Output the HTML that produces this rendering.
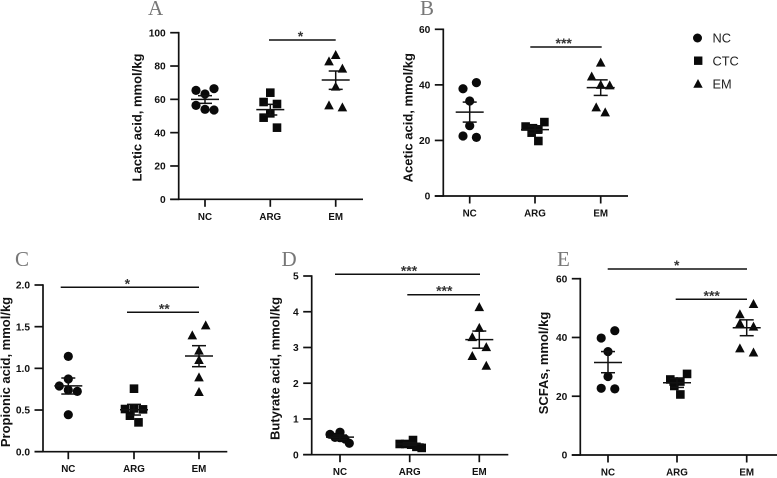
<!DOCTYPE html>
<html lang="en">
<head>
<meta charset="utf-8">
<title>Short-chain fatty acids by group</title>
<style>
html,body{margin:0;padding:0;background:#fff;}
svg{display:block;font-family:"Liberation Sans",Arial,sans-serif;}
</style>
</head>
<body>
<svg id="fig" xmlns="http://www.w3.org/2000/svg" width="777" height="478" viewBox="0 0 777 478">
  <g>
    <circle cx="697.5" cy="38" r="4.5" fill="#0a0a0a"/>
    <text x="712.5" y="42.5" font-size="12.8" fill="#222">NC</text>
    <rect x="694" y="56.5" width="8.4" height="8.4" fill="#0a0a0a"/>
    <text x="712.5" y="65.5" font-size="12.8" fill="#222">CTC</text>
    <polygon points="698,79 702.7,87.7 693.3,87.7" fill="#0a0a0a"/>
    <text x="712.5" y="88.5" font-size="12.8" fill="#222">EM</text>
  </g>
</svg>
<script>
var categories = ['NC', 'ARG', 'EM'];

var lacticTicks = [0, 20, 40, 60, 80, 100];
var lacticNC = [65.4, 66.4, 63.2, 56.4, 54, 53.6];
var lacticARG = [64, 58.4, 57.2, 51.6, 49, 43];
var lacticEM = [86.6, 82.8, 78.4, 67.6, 56.4, 55.2];
var lacticMean = [60, 53.8, 71.6];
var lacticUpper = [62.2, 57, 77];
var lacticLower = [57.6, 50.6, 66];

var aceticTicks = [0, 20, 40, 60];
var aceticNC = [40.8, 38.6, 34.2, 25.3, 21.6, 21.1];
var aceticARG = [25, 26.6, 24.4, 24, 22.8, 19.8];
var aceticEM = [48, 43, 40, 39.8, 31.9, 30.1];
var aceticMean = [30.2, 23.9, 39];
var aceticUpper = [33.8, 25.2, 41.8];
var aceticLower = [26.6, 22.6, 36.2];

var propionicTicks = ['0.0', '0.5', '1.0', '1.5', '2.0'];
var propionicNC = [1.144, 0.872, 0.788, 0.74, 0.724, 0.444];
var propionicARG = [0.756, 0.512, 0.52, 0.508, 0.432, 0.352];
var propionicEM = [1.516, 1.396, 1.212, 1.1, 0.892, 0.716];
var propionicMean = [0.79, 0.504, 1.148];
var propionicUpper = [0.884, 0.568, 1.272];
var propionicLower = [0.692, 0.44, 1.02];

var butyrateTicks = [0, 1, 2, 3, 4, 5];
var butyrateNC = [0.57, 0.63, 0.485, 0.476, 0.44, 0.32];
var butyrateARG = [0.41, 0.3, 0.3, 0.28, 0.22, 0.19];
var butyrateEM = [4.13, 3.55, 3.29, 3.01, 2.76, 2.49];
var butyrateMean = [0.49, 0.3, 3.22];
var butyrateUpper = [0.55, 0.34, 3.46];
var butyrateLower = [0.43, 0.26, 2.98];

var scfaTicks = [0, 20, 40, 60];
var scfaNC = [42.3, 39.8, 35.2, 26.7, 22.7, 22.5];
var scfaARG = [27.6, 25.7, 25, 25, 23.5, 20.6];
var scfaEM = [51.4, 47.9, 44.8, 43.7, 36.3, 34.9];
var scfaMean = [31.5, 24.6, 43.3];
var scfaUpper = [35.2, 26, 46];
var scfaLower = [28, 23, 40.6];

var SVGNS = 'http://www.w3.org/2000/svg';
var fig = document.getElementById('fig');

function make(parent, tag, attrs, text) {
  var el = document.createElementNS(SVGNS, tag);
  for (var k in attrs) {
    el.setAttribute(k, attrs[k]);
  }
  if (text !== undefined) {
    el.textContent = text;
  }
  parent.appendChild(el);
  return el;
}

function drawPanel(p) {
  var g = make(fig, 'g', {});
  
  

  var maxTick = parseFloat(p.ticks[p.ticks.length - 1]);
  function y(v) { return p.y0 + (p.yTop - p.y0) * v / maxTick; }
  function x(i) { return p.cx[i]; }

  var letter = make(g, 'text', {x: p.letterX, y: p.letterY, 'font-size': 21, 'font-family': '"Liberation Serif",serif', fill: '#777'}, p.letter);
  
  

  var yAxis = make(g, 'line', {x1: p.axisX, x2: p.axisX, y1: y(maxTick) - 0.8, y2: p.y0 + 0.8, stroke: '#111', 'stroke-width': 1.7});
  
  

  var xAxis = make(g, 'line', {x1: p.axisX - 8.5, x2: p.xEnd, y1: p.y0, y2: p.y0, stroke: '#111', 'stroke-width': 1.7});
  
  

  p.ticks.forEach(function (t) {
    var v = parseFloat(t);
    var tick = make(g, 'line', {x1: p.axisX - 8.5, x2: p.axisX, y1: y(v), y2: y(v), stroke: '#111', 'stroke-width': 1.7});
    
    
    var label = make(g, 'text', {x: p.axisX - 13, y: y(v) + 3.7, 'font-size': 10.2, 'font-weight': 'bold', 'text-anchor': 'end', fill: '#111'}, t);
    
    
  });

  var yTitle = make(g, 'text', {x: 0, y: 0, 'font-size': 13, 'font-weight': 'bold', 'text-anchor': 'middle', fill: '#111', transform: 'translate(' + p.titleX + ',' + p.titleY + ') rotate(-90)'}, p.title);
  
  

  categories.forEach(function (c, i) {
    var tick = make(g, 'line', {x1: x(i), x2: x(i), y1: p.y0, y2: p.y0 + 7.5, stroke: '#111', 'stroke-width': 1.7});
    
    
    var label = make(g, 'text', {x: x(i), y: p.y0 + 20.5, 'font-size': 9.8, 'font-weight': 'bold', 'text-anchor': 'middle', fill: '#111'}, c);
    
    
  });

  p.series.forEach(function (vals, i) {
    vals.forEach(function (v, j) {
      var px = x(i) + p.spread[i][j] * p.step[i];
      var py = y(v);
      var mark;
      if (i === 0) {
        mark = make(g, 'circle', {cx: px, cy: py, r: 4.6, fill: '#0a0a0a'});
      } else if (i === 1) {
        mark = make(g, 'rect', {x: px - 4.3, y: py - 4.3, width: 8.6, height: 8.6, fill: '#0a0a0a'});
      } else {
        mark = make(g, 'polygon', {points: px + ',' + (py - 5) + ' ' + (px + 4.8) + ',' + (py + 4) + ' ' + (px - 4.8) + ',' + (py + 4), fill: '#0a0a0a'});
      }
      
      
    });

    var stem = make(g, 'line', {x1: x(i), x2: x(i), y1: y(p.upper[i]), y2: y(p.lower[i]), stroke: '#111', 'stroke-width': 1.5});
    
    
    var capHi = make(g, 'line', {x1: x(i) - 7, x2: x(i) + 7, y1: y(p.upper[i]), y2: y(p.upper[i]), stroke: '#111', 'stroke-width': 1.5});
    
    
    var capLo = make(g, 'line', {x1: x(i) - 7, x2: x(i) + 7, y1: y(p.lower[i]), y2: y(p.lower[i]), stroke: '#111', 'stroke-width': 1.5});
    
    
    var meanLine = make(g, 'line', {x1: x(i) - 14, x2: x(i) + 14, y1: y(p.mean[i]), y2: y(p.mean[i]), stroke: '#111', 'stroke-width': 1.5});
    
    
  });

  p.sig.forEach(function (s) {
    var bar = make(g, 'line', {x1: s.x1, x2: s.x2, y1: s.y, y2: s.y, stroke: '#111', 'stroke-width': 1.5});
    
    
    var star = make(g, 'text', {x: s.sx, y: s.y + 1, 'font-size': 14, 'font-weight': 'bold', 'text-anchor': 'middle', fill: '#333'}, s.label);
    
    
  });
}

drawPanel({
  id: 'lactic', letter: 'A', letterX: 148, letterY: 15,
  title: 'Lactic acid, mmol/kg', titleX: 141.5, titleY: 117.5,
  axisX: 178.7, y0: 199.3, yTop: 32.7, xEnd: 363, cx: [205, 270.3, 335.7],
  ticks: lacticTicks,
  series: [lacticNC, lacticARG, lacticEM], mean: lacticMean, upper: lacticUpper, lower: lacticLower,
  spread: [[-1, 1, 0, -1, 0, 1], [0, -1, 1, 0, -1, 1], [0, -1, 1, 0, -1, 1]], step: [9, 6.7, 6.7],
  sig: [{x1: 269, x2: 335.7, y: 40, sx: 300.5, label: '*'}]
});

drawPanel({
  id: 'acetic', letter: 'B', letterX: 420, letterY: 15,
  title: 'Acetic acid, mmol/kg', titleX: 412.5, titleY: 117.7,
  axisX: 443.3, y0: 196, yTop: 29.3, xEnd: 628, cx: [469.7, 535, 600.7],
  ticks: aceticTicks,
  series: [aceticNC, aceticARG, aceticEM], mean: aceticMean, upper: aceticUpper, lower: aceticLower,
  spread: [[1, -1, 0, 0, -1, 1], [-1.4, 1.4, -0.3, 0.5, -0.5, 0.5], [0, -1, 0, 1, -0.5, 0.5]], step: [6.7, 6.7, 9],
  sig: [{x1: 530.3, x2: 601.7, y: 47, sx: 563.7, label: '***'}]
});

drawPanel({
  id: 'propionic', letter: 'C', letterX: 15, letterY: 266,
  title: 'Propionic acid, mmol/kg', titleX: 10, titleY: 372,
  axisX: 43, y0: 451.7, yTop: 285, xEnd: 227.3, cx: [68.3, 134, 199],
  ticks: propionicTicks,
  series: [propionicNC, propionicARG, propionicEM], mean: propionicMean, upper: propionicUpper, lower: propionicLower,
  spread: [[0, 0, -1, 0, 1, 0], [0, -1, 0, 1, -0.45, 0.5], [1, -1, 0, 0, 0, 0]], step: [9, 9, 6.7],
  sig: [{x1: 60.7, x2: 199, y: 287.3, sx: 127.3, label: '*'}, {x1: 127, x2: 199, y: 312.3, sx: 164.3, label: '**'}]
});

drawPanel({
  id: 'butyrate', letter: 'D', letterX: 281.5, letterY: 266,
  title: 'Butyrate acid, mmol/kg', titleX: 279.5, titleY: 368.5,
  axisX: 311.7, y0: 454.7, yTop: 276, xEnd: 508.3, cx: [340, 409.7, 479.3],
  ticks: butyrateTicks,
  series: [butyrateNC, butyrateARG, butyrateEM], mean: butyrateMean, upper: butyrateUpper, lower: butyrateLower,
  spread: [[-1, 0, -0.5, 0, 0.5, 0.93], [0.33, -1, -0.45, 0.15, 0.67, 1.2], [0, 0, -1, 1, -1, 1]], step: [10, 10, 7],
  sig: [{x1: 335, x2: 480, y: 274.3, sx: 409, label: '***'}, {x1: 407.3, x2: 480, y: 294.7, sx: 444.3, label: '***'}]
});

drawPanel({
  id: 'scfas', letter: 'E', letterX: 557, letterY: 266,
  title: 'SCFAs, mmol/kg', titleX: 548, titleY: 363,
  axisX: 580.3, y0: 455, yTop: 278.7, xEnd: 777, cx: [608, 677, 746.7],
  ticks: scfaTicks,
  series: [scfaNC, scfaARG, scfaEM], mean: scfaMean, upper: scfaUpper, lower: scfaLower,
  spread: [[1, -1, 0, 0, -1, 1], [1.5, -1, 0.5, -0.5, -0.4, 0.5], [1, -1, -1, 1, -1, 1]], step: [6.8, 6.7, 6.8],
  sig: [{x1: 607.7, x2: 747, y: 269, sx: 676.7, label: '*'}, {x1: 675.7, x2: 747, y: 299.3, sx: 711.7, label: '***'}]
});
</script>
</body>
</html>
